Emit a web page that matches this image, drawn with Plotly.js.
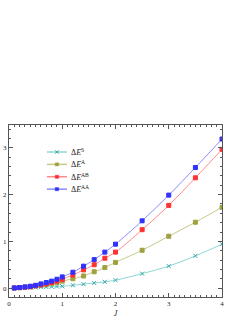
<!DOCTYPE html>
<html><head><meta charset="utf-8">
<script src="https://cdn.plot.ly/plotly-3.0.1.min.js"></script>
<style>html,body{margin:0;padding:0;background:#fff;}#plot{width:249px;height:323px;}</style>
</head><body><div id="plot"></div>
<script>
const J = [0.1,0.2,0.3,0.4,0.5,0.6,0.7,0.8,0.9,1.0,1.2,1.4,1.6,1.8,2.0,2.5,3.0,3.5,4.0];
const dES  = [0.001,0.003,0.006,0.01,0.015,0.02,0.025,0.03,0.035,0.04,0.06,0.085,0.11,0.135,0.17,0.31,0.47,0.69,0.94];
const dEA  = [0.003,0.01,0.02,0.03,0.045,0.06,0.08,0.10,0.12,0.15,0.20,0.26,0.35,0.44,0.55,0.81,1.11,1.41,1.73];
const dEAB = [0.003,0.01,0.02,0.03,0.05,0.07,0.09,0.12,0.15,0.19,0.28,0.39,0.50,0.64,0.77,1.25,1.77,2.36,2.97];
const dEAA = [0.003,0.012,0.025,0.04,0.06,0.09,0.12,0.15,0.19,0.24,0.34,0.47,0.61,0.77,0.94,1.44,1.99,2.58,3.19];
const names = ['Δ<i>E</i><sup>S</sup>','Δ<i>E</i><sup>A</sup>','Δ<i>E</i><sup>AB</sup>','Δ<i>E</i><sup>AA</sup>'];
const series = [dES,dEA,dEAB,dEAA];
const lineColors = ['#8fd6d6','#c8c888','#ff8c8c','#8c8cff'];
const markColors = ['#33a8a8','#a0a040','#ff3030','#3030ff'];
const symbols = ['x-thin-open','square','square','square'];
const traces = series.map((y,i)=>({
  x: J, y: y, type:'scatter', mode:'lines+markers', name: names[i], showlegend:false,
  line:{color:lineColors[i], width:1, shape:'spline'},
  marker:{symbol:symbols[i], size:4, color:markColors[i], line:{color:markColors[i], width:1}}
}));
// legend drawn as decoration (paper coordinates)
const shapes = [], annotations = [];
const lx0 = 0.178, lx1 = 0.272, ly0 = 0.843, dy = 0.072;
names.forEach((n,i)=>{
  const yy = ly0 - i*dy;
  const xm = (lx0+lx1)/2;
  shapes.push({type:'line', xref:'paper', yref:'paper', x0:lx0, x1:lx1, y0:yy, y1:yy, line:{color:lineColors[i], width:1.5}});
  if (i===0) {
    shapes.push({type:'line', xref:'paper', yref:'paper', x0:xm-0.008, x1:xm+0.008, y0:yy-0.009, y1:yy+0.009, line:{color:markColors[i], width:1}});
    shapes.push({type:'line', xref:'paper', yref:'paper', x0:xm-0.008, x1:xm+0.008, y0:yy+0.009, y1:yy-0.009, line:{color:markColors[i], width:1}});
  } else {
    shapes.push({type:'rect', xref:'paper', yref:'paper', x0:xm-0.008, x1:xm+0.008, y0:yy-0.009, y1:yy+0.009, fillcolor:markColors[i], line:{color:markColors[i], width:0.5}});
  }
  annotations.push({xref:'paper', yref:'paper', x:lx1+0.012, y:yy, xanchor:'left', yanchor:'middle', showarrow:false, text:n,
    font:{family:'Liberation Serif', size:8, color:'#222'}});
});
const axBase = {showgrid:false, zeroline:false, showline:true, linecolor:'#555', linewidth:1, mirror:'ticks',
  ticks:'inside', ticklen:4, tickcolor:'#555', tickfont:{family:'Liberation Serif', size:7, color:'#222'}, ticklabeloverflow:'allow'};
const layout = {
  width:249, height:323, margin:{l:9,r:27,t:125,b:26},
  paper_bgcolor:'#fff', plot_bgcolor:'#fff', showlegend:false,
  shapes: shapes, annotations: annotations,
  xaxis:Object.assign({}, axBase, {range:[0,4], dtick:1, minor:{dtick:0.1, ticks:'inside', ticklen:2, tickcolor:'#555'},
    title:{text:'<i>J</i>', font:{family:'Liberation Serif', size:8, color:'#222'}, standoff:2}}),
  yaxis:Object.assign({}, axBase, {range:[-0.19,3.49], dtick:1, minor:{dtick:0.2, ticks:'inside', ticklen:2, tickcolor:'#555'}})
};
Plotly.newPlot('plot', traces, layout, {displayModeBar:false, staticPlot:true});
</script></body></html>
